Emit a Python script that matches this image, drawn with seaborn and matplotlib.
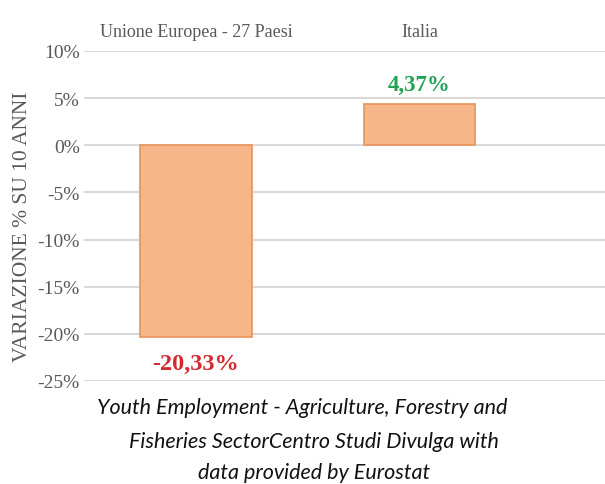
import matplotlib
matplotlib.use("Agg")
import matplotlib.pyplot as plt
import seaborn as sns
import pandas as pd

categories = ["Unione Europea - 27 Paesi", "Italia"]
values = [-20.33, 4.37]
value_labels = ["-20,33%", "4,37%"]
label_colors = ["#D42A2F", "#22A355"]
yticks = [10, 5, 0, -5, -10, -15, -20, -25]
caption_lines = [
    "Youth Employment - Agriculture, Forestry and",
    "Fisheries SectorCentro Studi Divulga with",
    "data provided by Eurostat",
]

sns.set_theme(style="white")
plt.rcParams['font.family'] = ['Liberation Serif', 'DejaVu Sans']

df = pd.DataFrame({"cat": categories, "val": values})

fig = plt.figure(figsize=(6.05, 4.85), dpi=100)
ax = fig.add_axes([0.139, 0.2124, 0.861, 0.6804])

sns.barplot(data=df, x="cat", y="val", ax=ax, color="#F7B58A", saturation=1,
            width=0.5, edgecolor="#E8945A", linewidth=1.2, zorder=3)

ax.set_ylim(-25, 10)
ax.set_xlim(-0.5, 1.83)
ax.set_yticks(yticks)
ax.set_yticklabels([f"{t}%" for t in yticks], fontsize=14, color="#595959")
ax.yaxis.grid(True, color="#D9D9D9", linewidth=1.5, zorder=0)
ax.xaxis.grid(False)
for s in ax.spines.values():
    s.set_visible(False)
ax.tick_params(axis="y", length=0, pad=3)
ax.xaxis.tick_top()
ax.tick_params(axis="x", length=0, pad=8, labelsize=13, labelcolor="#595959")
ax.set_xlabel("")
ax.set_ylabel("VARIAZIONE % SU 10 ANNI", fontsize=15.5, color="#595959", labelpad=4)
ax.yaxis.set_label_coords(-0.1, 0.47)

offsets = [-2.8, 2.1]
sizes = [17.5, 16.5]
for i, (v, lab, c) in enumerate(zip(values, value_labels, label_colors)):
    ax.text(i, v + offsets[i], lab, ha="center", va="center", fontsize=sizes[i],
            fontweight="bold", color=c, zorder=4)

caption_x = [302 / 605, 314 / 605, 314 / 605]
caption_y = [408, 442, 473]
for t, x, y in zip(caption_lines, caption_x, caption_y):
    fig.text(x, 1 - y / 485, t, ha="center", va="center", fontsize=15.5,
             style="italic", family="Lato", color="#111111")

fig.savefig("out.png", dpi=100)
